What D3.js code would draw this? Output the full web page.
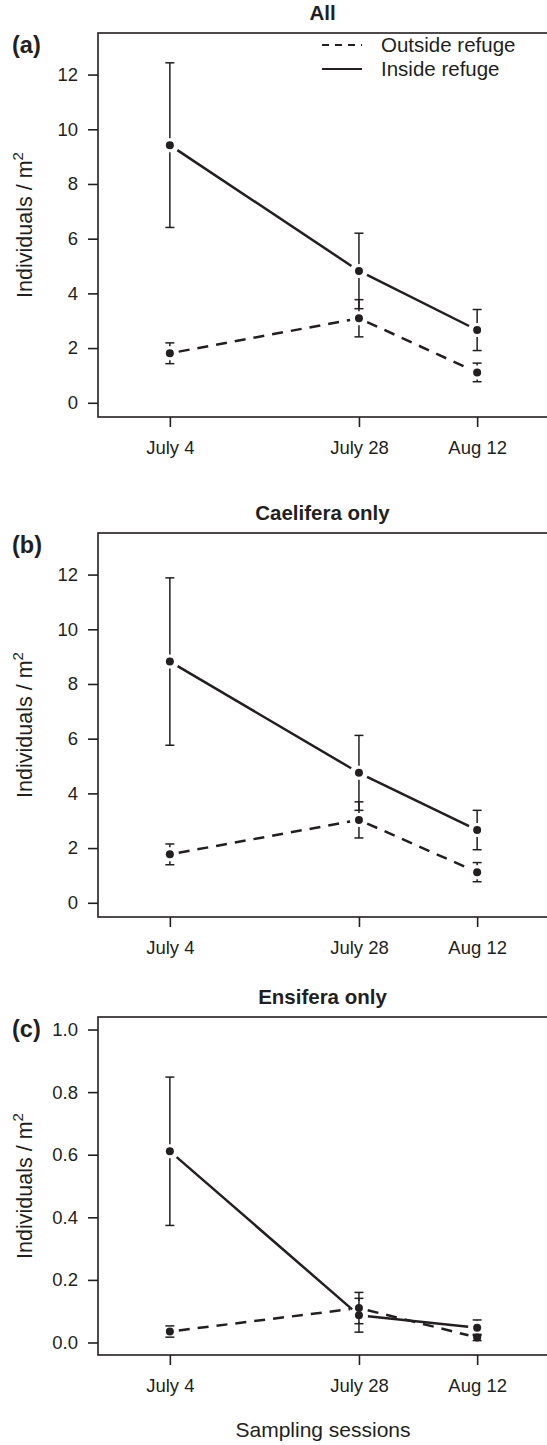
<!DOCTYPE html>
<html><head><meta charset="utf-8">
<script src="https://cdn.jsdelivr.net/npm/d3@7"></script>
<style>
html,body{margin:0;padding:0;background:#fff;}
svg{display:block;font-family:"Liberation Sans",Arial,sans-serif;}
</style></head>
<body>
<svg id="chart" width="547" height="1445"></svg>
<script>
// ---- data ----
const sessions = ["July 4", "July 28", "Aug 12"];
const sessionDays = [0, 24, 39];
const panelTitles = ["All", "Caelifera only", "Ensifera only"];
const panelLetters = ["(a)", "(b)", "(c)"];
const seriesNames = ["Outside refuge", "Inside refuge"];

const allInside = [9.42, 4.82, 2.66];
const allInsideSE = [3.01, 1.38, 0.75];
const allOutside = [1.81, 3.09, 1.11];
const allOutsideSE = [0.38, 0.68, 0.34];

const caeInside = [8.82, 4.75, 2.66];
const caeInsideSE = [3.06, 1.37, 0.72];
const caeOutside = [1.77, 3.03, 1.12];
const caeOutsideSE = [0.38, 0.66, 0.35];

const ensInside = [0.611, 0.087, 0.047];
const ensInsideSE = [0.237, 0.054, 0.025];
const ensOutside = [0.035, 0.110, 0.016];
const ensOutsideSE = [0.018, 0.050, 0.010];

const yTicksAB = [0, 2, 4, 6, 8, 10, 12];
const yTicksC = [0, 0.2, 0.4, 0.6, 0.8, 1.0];
const yMaxAB = 13, yMaxC = 1;

// ---- layout ----
const svg = d3.select("#chart");
const left = 98, right = 549;
const ink = "#231f20";
const panels = [
  {top: 33, bottom: 417, inside: allInside, insideSE: allInsideSE, outside: allOutside, outsideSE: allOutsideSE, ticks: yTicksAB, ymax: yMaxAB, fmt: d3.format("d"), legend: true},
  {top: 533, bottom: 917, inside: caeInside, insideSE: caeInsideSE, outside: caeOutside, outsideSE: caeOutsideSE, ticks: yTicksAB, ymax: yMaxAB, fmt: d3.format("d")},
  {top: 1017, bottom: 1355, inside: ensInside, insideSE: ensInsideSE, outside: ensOutside, outsideSE: ensOutsideSE, ticks: yTicksC, ymax: yMaxC, fmt: d3.format(".1f")}
];

const dayMin = -7, dayMax = 46;
const dpad = (dayMax - dayMin) * 0.04;
const x = d3.scaleLinear().domain([dayMin - dpad, dayMax + dpad]).range([left, right]);

const gapPt = 9;     // line gap around points
const gapErr = 7;    // error bar gap around points

function gappedSegments(pts) {
  const segs = [];
  for (let i = 0; i < pts.length - 1; i++) {
    const [x1, y1] = pts[i], [x2, y2] = pts[i + 1];
    const dx = x2 - x1, dy = y2 - y1, L = Math.hypot(dx, dy);
    if (L <= 2 * gapPt) continue;
    const ux = dx / L, uy = dy / L;
    segs.push([x1 + ux * gapPt, y1 + uy * gapPt, x2 - ux * gapPt, y2 - uy * gapPt]);
  }
  return segs;
}

panels.forEach((p, pi) => {
  const ypad = p.ymax * 0.04;
  const y = d3.scaleLinear().domain([0 - ypad, p.ymax + ypad]).range([p.bottom, p.top]);
  const g = svg.append("g");

  // box
  g.append("rect").attr("x", left).attr("y", p.top).attr("width", right - left).attr("height", p.bottom - p.top)
    .attr("fill", "none").attr("stroke", ink).attr("stroke-width", 1.6);

  // y axis
  const yAxis = d3.axisLeft(y).tickValues(p.ticks).tickFormat(p.fmt).tickSize(10).tickPadding(10);
  const ya = g.append("g").attr("transform", `translate(${left},0)`).call(yAxis);
  ya.select(".domain").remove();
  ya.selectAll("line").attr("stroke", ink).attr("stroke-width", 1.6);
  ya.selectAll("text").attr("font-size", 18.5).attr("fill", ink).attr("font-family", "Liberation Sans, Arial, sans-serif");

  // x axis
  const xAxis = d3.axisBottom(x).tickValues(sessionDays).tickFormat((d, i) => sessions[i]).tickSize(10).tickPadding(14);
  const xa = g.append("g").attr("transform", `translate(0,${p.bottom})`).call(xAxis);
  xa.select(".domain").remove();
  xa.selectAll("line").attr("stroke", ink).attr("stroke-width", 1.6);
  xa.selectAll("text").attr("font-size", 18.5).attr("fill", ink).attr("font-family", "Liberation Sans, Arial, sans-serif");

  // title
  g.append("text").attr("x", (left + 547) / 2).attr("y", p.top - 13).attr("text-anchor", "middle")
    .attr("font-size", 20.5).attr("font-weight", "bold").attr("fill", ink).text(panelTitles[pi]);
  // panel letter
  g.append("text").attr("x", 12).attr("y", p.top + 20).attr("font-size", 23.5).attr("font-weight", "bold")
    .attr("fill", ink).text(panelLetters[pi]);

  // y label
  const yl = g.append("text").attr("transform", `translate(32,${(p.top + p.bottom) / 2}) rotate(-90)`)
    .attr("text-anchor", "middle").attr("font-size", 21.5).attr("fill", ink);
  yl.append("tspan").text("Individuals / m");
  yl.append("tspan").attr("dy", -9).attr("font-size", 15).text("2");

  // series
  const series = [
    {vals: p.outside, se: p.outsideSE, dash: "11,8"},
    {vals: p.inside, se: p.insideSE, dash: null}
  ];
  series.forEach(s => {
    const pts = s.vals.map((v, i) => [x(sessionDays[i]), y(v)]);
    gappedSegments(pts).forEach(sg => {
      g.append("line").attr("x1", sg[0]).attr("y1", sg[1]).attr("x2", sg[2]).attr("y2", sg[3])
        .attr("stroke", ink).attr("stroke-width", 2.5)
        .attr("stroke-dasharray", s.dash);
    });
    // error bars
    s.vals.forEach((v, i) => {
      const cx = x(sessionDays[i]), cy = y(v);
      const yu = y(v + s.se[i]), yd = y(v - s.se[i]);
      if (cy - yu > gapErr) g.append("line").attr("x1", cx).attr("x2", cx).attr("y1", cy - gapErr).attr("y2", yu)
        .attr("stroke", ink).attr("stroke-width", 1.5);
      if (yd - cy > gapErr) g.append("line").attr("x1", cx).attr("x2", cx).attr("y1", cy + gapErr).attr("y2", yd)
        .attr("stroke", ink).attr("stroke-width", 1.5);
      [yu, yd].forEach(yy => g.append("line").attr("x1", cx - 4.5).attr("x2", cx + 4.5).attr("y1", yy).attr("y2", yy)
        .attr("stroke", ink).attr("stroke-width", 1.5));
      g.append("circle").attr("cx", cx).attr("cy", cy).attr("r", 4).attr("fill", ink);
    });
  });

  if (p.legend) {
    const lg = g.append("g");
    seriesNames.forEach((nm, k) => {
      const ly = 45 + k * 24;
      lg.append("line").attr("x1", 322).attr("x2", 362).attr("y1", ly).attr("y2", ly)
        .attr("stroke", ink).attr("stroke-width", 1.8)
        .attr("stroke-dasharray", k === 0 ? "7,6" : null);
      lg.append("text").attr("x", 381).attr("y", ly + 7).attr("font-size", 20.5).attr("fill", ink).text(nm);
    });
  }
});

// x label
svg.append("text").attr("x", 323).attr("y", 1437).attr("text-anchor", "middle")
  .attr("font-size", 21).attr("fill", ink).text("Sampling sessions");
</script>
</body></html>
